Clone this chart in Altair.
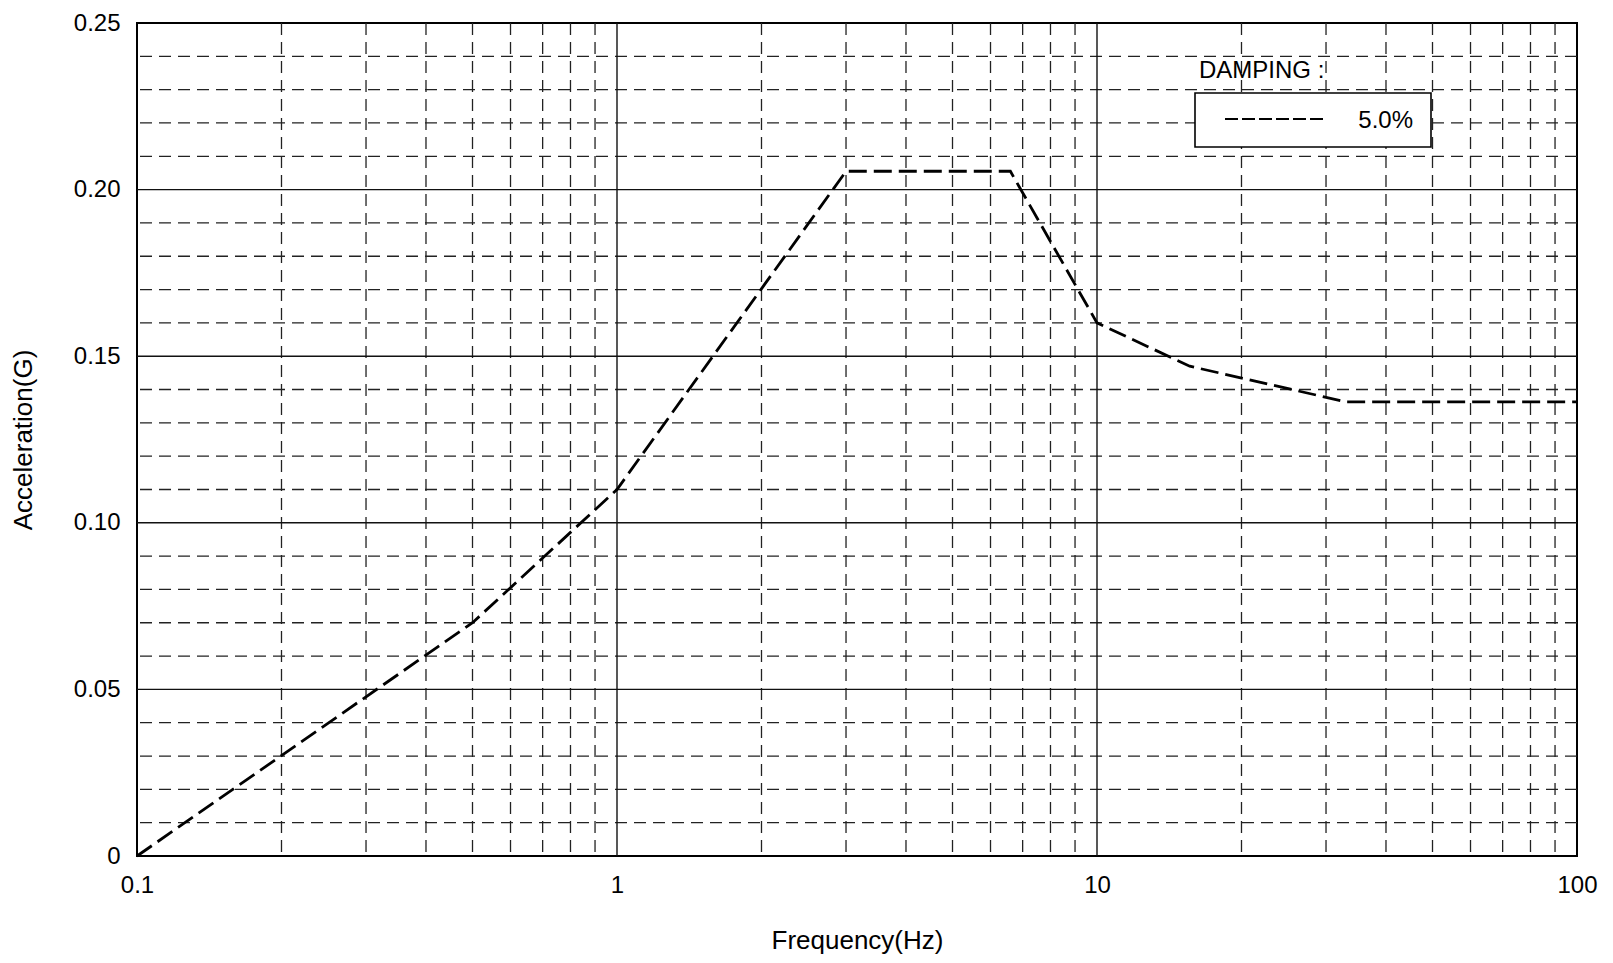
import altair as alt
import pandas as pd

# ---- data ----
freq = [0.1, 0.5, 1.0, 3.0, 6.6, 10.0, 15.6, 33.0, 100.0]
accel = [0.0, 0.070, 0.110, 0.2055, 0.2055, 0.160, 0.147, 0.1363, 0.1363]

x_ticks = [0.1, 1, 10, 100]
y_ticks = [0, 0.05, 0.10, 0.15, 0.20, 0.25]

x_major_grid = [1, 10]
x_minor_grid = [0.2, 0.3, 0.4, 0.5, 0.6, 0.7, 0.8, 0.9,
                2, 3, 4, 5, 6, 7, 8, 9,
                20, 30, 40, 50, 60, 70, 80, 90]
y_major_grid = [0.05, 0.10, 0.15, 0.20]
y_minor_grid = [0.01, 0.02, 0.03, 0.04, 0.06, 0.07, 0.08, 0.09,
                0.11, 0.12, 0.13, 0.14, 0.16, 0.17, 0.18, 0.19,
                0.21, 0.22, 0.23, 0.24]

legend_title = ["DAMPING :"]
legend_label = ["5.0%"]

FONT = "Liberation Sans"
W, H = 1440, 833

xscale = alt.Scale(type="log", domain=[0.1, 100], nice=False)
yscale = alt.Scale(domain=[0, 0.25], nice=False)

xaxis = alt.Axis(values=x_ticks, format="~g", grid=False, ticks=False,
                 domain=False, labelPadding=17, labelFlush=False,
                 labelOverlap=False, labelFont=FONT, labelFontSize=24,
                 labelColor="black",
                 title="Frequency(Hz)", titleFont=FONT, titleFontSize=26,
                 titleFontWeight="normal", titleColor="black",
                 titleY=92, titleBaseline="alphabetic")
yaxis = alt.Axis(values=y_ticks,
                 labelExpr="datum.value == 0 ? '0' : format(datum.value, '.2f')",
                 grid=False, ticks=False, domain=False, labelPadding=17,
                 labelFlush=False, labelOverlap=False, labelFont=FONT,
                 labelFontSize=24, labelColor="black", labelBaseline="middle",
                 title="Acceleration(G)", titleFont=FONT, titleFontSize=26,
                 titleFontWeight="normal", titleColor="black",
                 titleX=-106, titleY=H / 2, titleBaseline="alphabetic",
                 titleAngle=270)

curve_df = pd.DataFrame({"f": freq, "a": accel})

xmin = alt.Chart(pd.DataFrame({"x": x_minor_grid})).mark_rule(
    color="#222", strokeWidth=1.3, strokeDash=[12, 7]
).encode(x=alt.X("x:Q", scale=xscale, axis=xaxis, title="Frequency(Hz)"))

ymin = alt.Chart(pd.DataFrame({"y": y_minor_grid})).mark_rule(
    color="#222", strokeWidth=1.3, strokeDash=[12, 7]
).encode(y=alt.Y("y:Q", scale=yscale, axis=yaxis, title="Acceleration(G)"))

xmaj = alt.Chart(pd.DataFrame({"x": x_major_grid})).mark_rule(
    color="#111", strokeWidth=1.4
).encode(x=alt.X("x:Q", scale=xscale, axis=xaxis, title="Frequency(Hz)"))

ymaj = alt.Chart(pd.DataFrame({"y": y_major_grid})).mark_rule(
    color="#111", strokeWidth=1.4
).encode(y=alt.Y("y:Q", scale=yscale, axis=yaxis, title="Acceleration(G)"))

curve = alt.Chart(curve_df).mark_line(
    color="black", strokeWidth=2.8, strokeDash=[18, 7]
).encode(
    x=alt.X("f:Q", scale=xscale, axis=xaxis, title="Frequency(Hz)"),
    y=alt.Y("a:Q", scale=yscale, axis=yaxis, title="Acceleration(G)"),
)

leg_box = alt.Chart(pd.DataFrame({"t": legend_label})).mark_rect(
    fill="white", stroke="black", strokeWidth=1.6
).encode(x=alt.value(1058), x2=alt.value(1294), y=alt.value(70), y2=alt.value(124))

leg_line = alt.Chart(pd.DataFrame({"t": legend_label})).mark_rule(
    color="black", strokeWidth=2, strokeDash=[13, 4]
).encode(x=alt.value(1088), x2=alt.value(1188), y=alt.value(96))

leg_text = alt.Chart(pd.DataFrame({"t": legend_label})).mark_text(
    font=FONT, fontSize=24, align="right", baseline="alphabetic", color="black"
).encode(x=alt.value(1276), y=alt.value(105), text="t:N")

leg_title = alt.Chart(pd.DataFrame({"t": legend_title})).mark_text(
    font=FONT, fontSize=24, align="left", baseline="alphabetic", color="black"
).encode(x=alt.value(1062), y=alt.value(55), text="t:N")

chart = alt.layer(
    xmin, ymin, xmaj, ymaj, leg_box, curve, leg_line, leg_text, leg_title
).properties(
    width=W, height=H,
    autosize=alt.AutoSizeParams(type="none"),
    padding={"left": 129, "top": 15, "right": 28, "bottom": 99},
    background="white",
).configure_view(stroke="black", strokeWidth=2)

chart.save("out.html", embed_options={"renderer": "svg", "actions": False})
